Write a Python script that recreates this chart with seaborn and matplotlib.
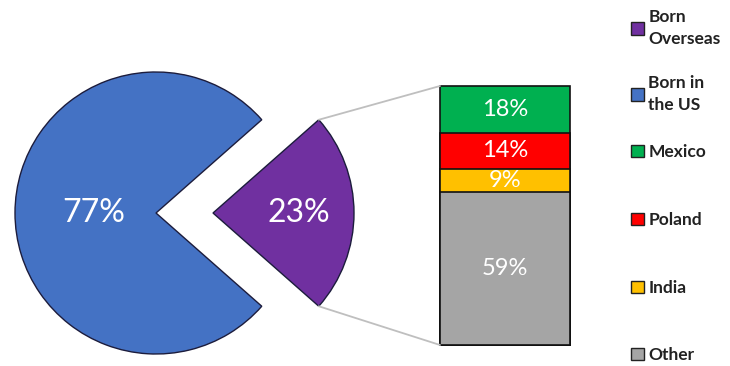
import numpy as np
import matplotlib
matplotlib.use("Agg")
import matplotlib.pyplot as plt
from matplotlib.patches import ConnectionPatch, Patch
import seaborn as sns
import pandas as pd

# ---- data ----
pie_labels = ["Born Overseas", "Born in the US"]
pie_values = [23, 77]
pie_colors = ["#7030A0", "#4472C4"]
bar_labels = ["Mexico", "Poland", "India", "Other"]
bar_values = [18, 14, 9, 59]
bar_colors = ["#00B050", "#FF0000", "#FFC000", "#A5A5A5"]
legend_labels = ["Born\nOverseas", "Born in\nthe US", "Mexico", "Poland", "India", "Other"]
legend_colors = ["#7030A0", "#4472C4", "#00B050", "#FF0000", "#FFC000", "#A5A5A5"]

sns.set_theme(style="white")
plt.rcParams['font.family'] = ['Lato', 'DejaVu Sans']

W, H = 730, 366
fig = plt.figure(figsize=(W / 100, H / 100), dpi=100)
fig.patch.set_facecolor("white")

# ---- pie (axes in pixel-like data units) ----
ax = fig.add_axes([0, 0, 1, 1])
start = -pie_values[0] / sum(pie_values) * 360 / 2
wedges, _ = ax.pie(pie_values, colors=pie_colors, startangle=start,
                   explode=[57, 0], center=(156, 153), radius=141,
                   counterclock=True,
                   wedgeprops=dict(edgecolor="#1c1c3c", linewidth=1))
ax.set_xlim(0, W)
ax.set_ylim(0, H)
ax.axis("off")

label_dist = [0.61, 0.44]
for w, v, d in zip(wedges, pie_values, label_dist):
    tm = np.deg2rad((w.theta1 + w.theta2) / 2)
    cx, cy = w.center
    ax.text(cx + d * w.r * np.cos(tm), cy + d * w.r * np.sin(tm), f"{v}%",
            color="white", fontsize=23, ha="center", va="center")

# ---- stacked bar ----
bax = fig.add_axes([440 / W, 21 / H, 130 / W, 259 / H])
order = list(zip(bar_labels, bar_values, bar_colors))[::-1]  # bottom to top
cum = np.cumsum([v for _, v, _ in order])
df = pd.DataFrame({"lab": [l for l, _, _ in order], "val": [v for _, v, _ in order],
                   "top": cum, "color": [c for _, _, c in order]})
for i in range(len(df) - 1, -1, -1):
    sns.barplot(x=["s"], y=[df["top"][i]], color=df["color"][i], width=1,
                edgecolor="#111111", linewidth=1.2, saturation=1, ax=bax)
for p in bax.patches:
    p.set_clip_on(False)
bax.set_xlim(-0.5, 0.5)
bax.set_ylim(0, 100)
bax.axis("off")
for i in range(len(df)):
    mid = df["top"][i] - df["val"][i] / 2
    bax.text(0, mid, f"{df['val'][i]}%", color="white", fontsize=17,
             ha="center", va="center")

# ---- connector lines ----
pw = wedges[0]
for ang, corner in [(pw.theta2, (0, 1)), (pw.theta1, (0, 0))]:
    a = np.deg2rad(ang)
    pt = (pw.center[0] + pw.r * np.cos(a), pw.center[1] + pw.r * np.sin(a))
    con = ConnectionPatch(xyA=pt, coordsA=ax.transData, xyB=corner,
                          coordsB=bax.transAxes, color="#BFBFBF", lw=1.3)
    fig.add_artist(con)

# ---- legend (one entry per block, vertically spread) ----
entry_y = [28, 94, 152, 220, 288, 355]  # pixel rows from top (layout)
for lab, col, yc in zip(legend_labels, legend_colors, entry_y):
    leg = fig.legend([Patch(facecolor=col, edgecolor="#222222", linewidth=1)], [lab],
                     loc="center left", bbox_to_anchor=(631 / W, 1 - yc / H),
                     frameon=False, handlelength=0.75, handleheight=0.75,
                     handletextpad=0.25, borderpad=0, borderaxespad=0,
                     labelcolor="#222222", prop=dict(weight="bold", size=12.5))
    for t in leg.get_texts():
        t.set_linespacing(1.45)

fig.savefig("out.png", dpi=100, facecolor="white")
